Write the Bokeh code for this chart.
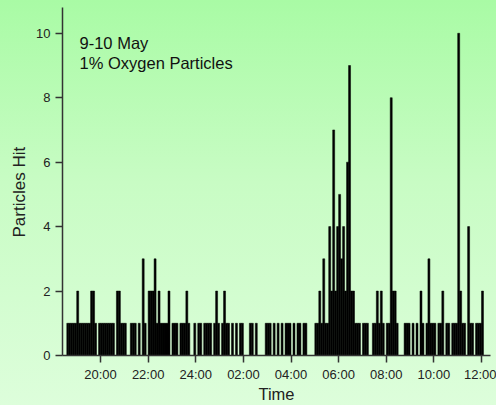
import numpy as np
from bokeh.plotting import figure
from bokeh.models import Range1d, FixedTicker, Label, Title
from bokeh.embed import file_html
from bokeh.resources import INLINE

# ---- data -------------------------------------------------------------
bin_start_hour = 18 + 35 / 60      # first 5-minute bin starts 18:35, 9 May
bin_minutes = 5
counts = [
    1, 1, 1, 1, 1, 2, 1, 1, 1, 1, 1, 1,
    2, 2, 1, 0, 1, 1, 1, 1, 1, 1, 1, 1,
    0, 2, 2, 1, 1, 1, 0, 0, 1, 1, 1, 0,
    1, 0, 3, 1, 0, 2, 2, 2, 3, 1, 2, 1,
    1, 1, 1, 2, 0, 1, 1, 1, 0, 1, 1, 1,
    2, 1, 0, 0, 1, 0, 1, 1, 0, 1, 1, 1,
    1, 0, 1, 2, 1, 0, 1, 2, 1, 1, 0, 1,
    0, 1, 0, 1, 1, 0, 0, 0, 1, 1, 0, 1,
    0, 0, 0, 0, 1, 1, 1, 0, 1, 0, 1, 0,
    1, 0, 1, 1, 1, 0, 1, 0, 1, 1, 0, 1,
    1, 0, 0, 0, 0, 1, 1, 2, 1, 3, 1, 1,
    4, 2, 7, 2, 4, 5, 3, 4, 2, 6, 9, 2,
    2, 1, 1, 1, 0, 1, 1, 1, 0, 0, 1, 1,
    2, 1, 2, 1, 0, 1, 1, 8, 2, 2, 1, 0,
    0, 0, 1, 1, 1, 0, 1, 0, 1, 0, 2, 1,
    0, 1, 3, 1, 1, 1, 0, 1, 1, 2, 0, 1,
    1, 0, 1, 1, 1, 10, 2, 1, 1, 0, 4, 1,
    1, 0, 1, 1, 1, 2,
]
tick_hours = [20, 22, 24, 26, 28, 30, 32, 34, 36]
tick_labels = ["20:00", "22:00", "24:00", "02:00", "04:00",
               "06:00", "08:00", "10:00", "12:00"]
y_ticks = [0, 2, 4, 6, 8, 10]
note_lines = ["9-10 May", "1% Oxygen Particles"]
x_title = "Time"
y_title = "Particles Hit"

# ---- figure -----------------------------------------------------------
FONT = "Liberation Sans"
INK = "#222222"

p = figure(width=496, height=405, output_backend="svg", toolbar_location=None,
           x_range=Range1d(18.403, 36.378), y_range=Range1d(0, 10.8),
           min_border_left=62, min_border_right=6,
           min_border_top=7, min_border_bottom=50)
p.styles = {"position": "fixed", "left": "0px", "top": "0px",
            "background": "linear-gradient(to bottom, #a9fba5 0%, #c8fcc4 45%, #ddfedb 100%)"}
p.background_fill_color = None
p.border_fill_color = None
p.outline_line_color = None
p.grid.visible = False

bin_w = bin_minutes / 60
xs = bin_start_hour + (np.arange(len(counts)) + 0.5) * bin_w
p.vbar(x=xs, top=counts, bottom=0, width=bin_w,
       fill_color="black", line_color="black", line_width=0.5)

for ax in (p.xaxis[0], p.yaxis[0]):
    ax.axis_line_color = "#333333"
    ax.axis_line_width = 1.5
    ax.major_tick_line_color = "#333333"
    ax.major_tick_line_width = 1.5
    ax.major_tick_out = 7
    ax.major_tick_in = 0
    ax.minor_tick_line_color = None
    ax.major_label_text_font = FONT
    ax.major_label_text_font_size = "13px"
    ax.major_label_text_color = INK
    ax.axis_label_text_font = FONT
    ax.axis_label_text_font_size = "16.5px"
    ax.axis_label_text_font_style = "normal"
    ax.axis_label_text_color = INK

p.xaxis.ticker = FixedTicker(ticks=tick_hours)
p.xaxis.major_label_overrides = {h: lab for h, lab in zip(tick_hours, tick_labels)}
p.xaxis.axis_label = x_title
p.xaxis.axis_label_standoff = 0
p.xaxis.major_label_standoff = 4
p.yaxis.ticker = FixedTicker(ticks=y_ticks)

# y title as a side title so it can be shifted along the axis like the original
p.add_layout(Title(text=y_title, align="left", offset=118, standoff=9,
                   text_font=FONT, text_font_size="17px",
                   text_font_style="normal", text_color=INK), "left")

for i, line in enumerate(note_lines):
    p.add_layout(Label(x=19.118, y=9.705 - i * 0.621, text=line,
                       text_font=FONT, text_font_size="16.5px",
                       text_color="#111111", text_baseline="alphabetic"))

open("out.html", "w").write(file_html(p, INLINE))
